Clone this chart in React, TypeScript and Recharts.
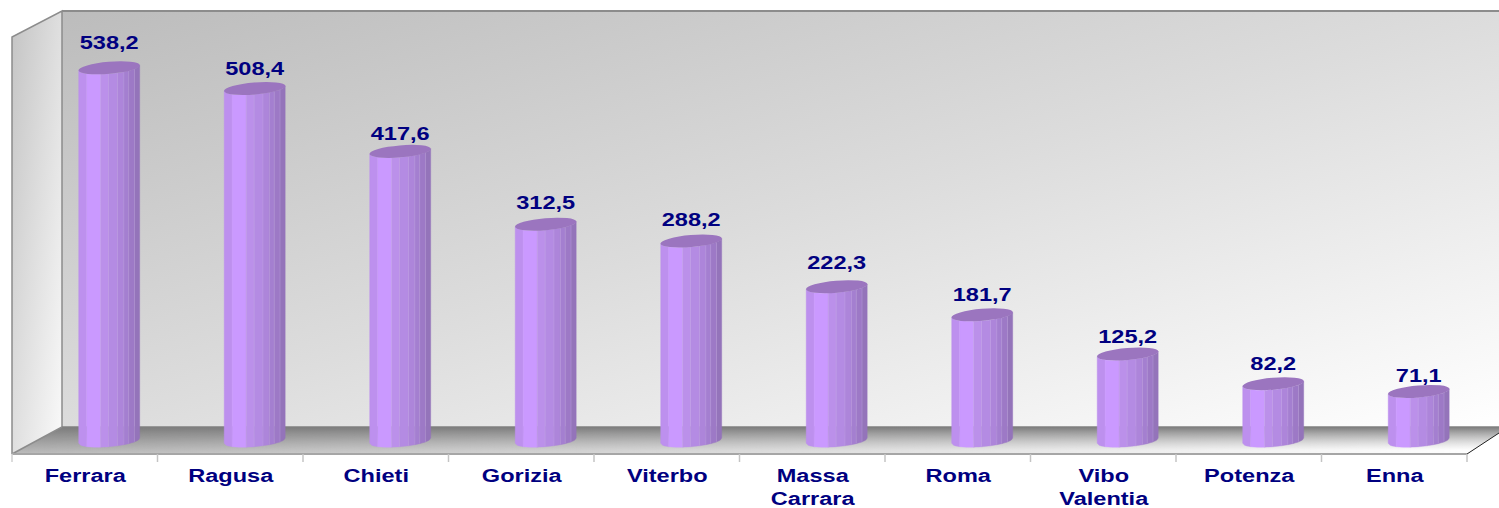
import React from "react";
import { ComposedChart, Bar, XAxis, YAxis, LabelList } from "recharts";

const categories = ["Ferrara", "Ragusa", "Chieti", "Gorizia", "Viterbo", "Massa Carrara", "Roma", "Vibo Valentia", "Potenza", "Enna"];
const values = [538.2, 508.4, 417.6, 312.5, 288.2, 222.3, 181.7, 125.2, 82.2, 71.1];
const data = categories.map((name, i) => ({ name, value: values[i] }));

const W = 1499, H = 508;
const LEFT = 12, RIGHT_FRONT = 1467, FLOOR_FRONT = 454, FLOOR_BACK = 427, BACK_LEFT = 62, TOP = 11;
const DEPTH_X = 24.7;
const BAR_W = 61;
const STX = [0, 0.13, 0.36, 0.49, 0.635, 0.74, 0.82, 0.915, 1];
const STC = ["#bd90ee", "#ca99ff", "#bb90ea", "#b48be3", "#ad85da", "#a47fd0", "#9d79c6", "#9474ba"];
const FONT = "'Liberation Sans', Arial, sans-serif";
const NAVY = "#000080";
const STRETCH = 1.24;
const LABEL_NUDGE = [-5, 1, 3, -1, -1, -4, 0, 3, 0, 5];

function Scene() {
  const boundaries = categories.map((_, i) => LEFT + (i + 1) * (RIGHT_FRONT - LEFT) / categories.length);
  return (
    <g>
      <defs>
        <linearGradient id="back" x1="0" y1="0" x2="1" y2="1">
          <stop offset="0" stopColor="#bcbcbc" />
          <stop offset="0.5" stopColor="#dcdcdc" />
          <stop offset="1" stopColor="#ffffff" />
        </linearGradient>
        <linearGradient id="side" x1="0" y1="0" x2="1" y2="1">
          <stop offset="0" stopColor="#c4c4c4" />
          <stop offset="1" stopColor="#fafafa" />
        </linearGradient>
        <linearGradient id="floorV" x1="0" y1="0" x2="0" y2="1">
          <stop offset="0" stopColor="#7c7c7c" />
          <stop offset="1" stopColor="#bdbdbd" />
        </linearGradient>
        <linearGradient id="floorH" x1="0" y1="0" x2="1" y2="0">
          <stop offset="0" stopColor="#ffffff" stopOpacity="0" />
          <stop offset="1" stopColor="#ffffff" stopOpacity="1" />
        </linearGradient>
        <linearGradient id="floorM" x1="0" y1="0" x2="0" y2="1">
          <stop offset="0" stopColor="#000000" />
          <stop offset="0.85" stopColor="#ffffff" />
        </linearGradient>
        <mask id="floorMask" maskUnits="userSpaceOnUse" x={0} y={FLOOR_BACK} width={W} height={FLOOR_FRONT - FLOOR_BACK}>
          <rect x={0} y={FLOOR_BACK} width={W} height={FLOOR_FRONT - FLOOR_BACK} fill="url(#floorM)" />
        </mask>
      </defs>
      <rect x={BACK_LEFT} y={TOP} width={W - BACK_LEFT} height={FLOOR_BACK - TOP} fill="url(#back)" />
      <polygon points={`${LEFT},37 ${BACK_LEFT},${TOP} ${BACK_LEFT},${FLOOR_BACK} ${LEFT},${FLOOR_FRONT}`} fill="url(#side)" />
      <polygon points={`${BACK_LEFT},${FLOOR_BACK} ${W},${FLOOR_BACK} ${W},433 ${RIGHT_FRONT},${FLOOR_FRONT} ${LEFT},${FLOOR_FRONT}`} fill="url(#floorV)" />
      <polygon points={`${BACK_LEFT},${FLOOR_BACK} ${W},${FLOOR_BACK} ${W},433 ${RIGHT_FRONT},${FLOOR_FRONT} ${LEFT},${FLOOR_FRONT}`} fill="url(#floorH)" mask="url(#floorMask)" />
      <polyline points={`${LEFT},${FLOOR_FRONT} ${LEFT},37 ${BACK_LEFT},${TOP} ${BACK_LEFT},${FLOOR_BACK} ${LEFT},${FLOOR_FRONT}`} fill="none" stroke="#8c8c8c" strokeWidth={1.5} />
      <line x1={BACK_LEFT} y1={TOP} x2={W} y2={TOP} stroke="#8c8c8c" strokeWidth={2} />
      <line x1={BACK_LEFT} y1={FLOOR_BACK} x2={W} y2={FLOOR_BACK} stroke="#808080" strokeWidth={1.5} />
      <line x1={RIGHT_FRONT} y1={FLOOR_FRONT} x2={W} y2={433} stroke="#222" strokeWidth={1} />
      <line x1={LEFT} y1={FLOOR_FRONT} x2={RIGHT_FRONT} y2={FLOOR_FRONT} stroke="#a6a6a6" strokeWidth={2} />
      <line x1={LEFT} y1={FLOOR_FRONT} x2={LEFT} y2={462} stroke="#d0d0d0" strokeWidth={1.5} />
      {boundaries.map((b) => (
        <line key={b} x1={b} y1={FLOOR_FRONT} x2={b} y2={462} stroke="#c4c4c4" strokeWidth={1.5} />
      ))}
    </g>
  );
}

function Cylinder(props: any) {
  const { x, y, width, height } = props;
  const cx = x + width / 2 + DEPTH_X;
  const rx = width / 2;
  const ry = 6;
  const tilt = 2.6;
  const topY = y;
  const botY = y + height;
  const edge = (px: number, cy: number) => {
    const u = (px - cx) / rx;
    return cy - tilt * u + ry * Math.sqrt(Math.max(0, 1 - u * u));
  };
  const strips = STC.map((c, i) => {
    const a = cx - rx + STX[i] * width;
    const b = cx - rx + STX[i + 1] * width;
    const xs = [0, 0.25, 0.5, 0.75, 1].map((t) => a + (b - a) * t);
    const up = xs.map((p) => `${p},${edge(p, topY)}`);
    const dn = xs.slice().reverse().map((p) => `${p},${edge(p, botY)}`);
    return <polygon key={i} points={[...up, ...dn].join(" ")} fill={c} stroke={c} strokeWidth={0.4} />;
  });
  return (
    <g>
      {strips}
      {STX.slice(2, -1).map((s, i) => {
        const p = cx - rx + s * width;
        return <line key={i} x1={p} x2={p} y1={edge(p, topY)} y2={edge(p, botY)} stroke="#d2b6f2" strokeOpacity={0.35} strokeWidth={0.8} />;
      })}
      <ellipse cx={cx} cy={topY} rx={rx + 0.3} ry={ry} transform={`rotate(${-(Math.atan(tilt / rx) * 180) / Math.PI} ${cx} ${topY})`} fill="#9b75bf" />
    </g>
  );
}

function CategoryTick(props: any) {
  const { x, payload } = props;
  const parts = String(payload.value).split(" ");
  return (
    <g transform={`translate(${x + 0.5},0)`}>
      {parts.map((p, i) => (
        <text key={p} transform={`translate(0,${482 + i * 23}) scale(${STRETCH},1)`} textAnchor="middle" fontFamily={FONT} fontWeight={700} fontSize={19} fill={NAVY}>
          {p}
        </text>
      ))}
    </g>
  );
}

function ValueLabel(props: any) {
  const { x, y, width, value, index } = props;
  return (
    <text transform={`translate(${x + width / 2 + DEPTH_X},${y - 14 + LABEL_NUDGE[index]}) scale(${STRETCH},1)`} textAnchor="middle" fontFamily={FONT} fontWeight={700} fontSize={19} fill={NAVY}>
      {String(value).replace(".", ",")}
    </text>
  );
}

export default function App() {
  return (
    <div style={{ position: "absolute", left: 0, top: 0, width: W, height: H, background: "#fff" }}>
      <ComposedChart width={W} height={H} data={data} margin={{ top: 25, right: W - RIGHT_FRONT, bottom: 0, left: LEFT }} barCategoryGap={0}>
        <Scene />
        <XAxis dataKey="name" interval={0} axisLine={false} tickLine={false} height={H - FLOOR_FRONT} tick={<CategoryTick />} />
        <YAxis hide domain={[-19.2, 600]} />
        <Bar dataKey="value" barSize={BAR_W} shape={<Cylinder />} isAnimationActive={false}>
          <LabelList dataKey="value" content={<ValueLabel />} />
        </Bar>
      </ComposedChart>
    </div>
  );
}
